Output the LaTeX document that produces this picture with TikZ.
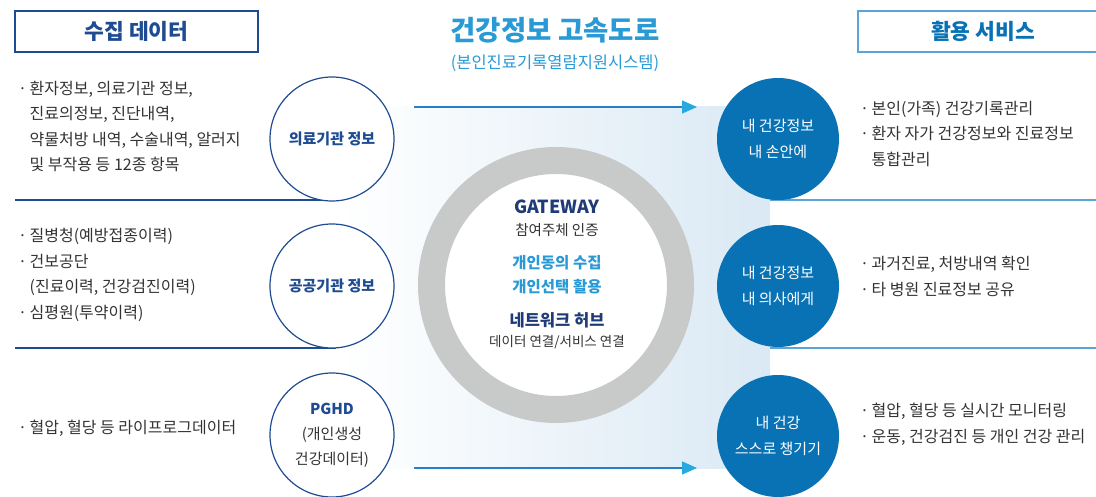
\documentclass[tikz,border=0pt]{standalone}
\usepackage{fontspec}
\setmainfont{Noto Sans CJK KR}
\usepackage{xcolor}
\usetikzlibrary{arrows.meta}
\usetikzlibrary{positioning}
\definecolor{navy}{RGB}{30,75,145}
\definecolor{titleblue}{RGB}{41,154,214}
\definecolor{hubnavy}{RGB}{32,60,120}
\definecolor{svcblue}{RGB}{8,114,180}
\definecolor{svcline}{RGB}{90,165,216}
\definecolor{bodygray}{RGB}{51,51,51}
\definecolor{ringgray}{RGB}{200,201,201}
\definecolor{bandblue}{RGB}{218,233,244}
\definecolor{arrowblue}{RGB}{36,128,200}
\definecolor{arrowtip}{RGB}{41,168,224}
\newcommand{\fsz}[1]{\fontsize{#1}{#1}\selectfont}
\newcommand{\bul}{·\hspace{2.5pt}}
\newcommand{\ind}{\hphantom{\bul}}

\begin{document}
\begin{tikzpicture}[x=1pt,y=-1pt,node distance=25.5pt]
  \tikzstyle{hdr}=[draw, line width=1.5pt, minimum width=243pt, minimum height=41pt, inner sep=0pt, font=\fsz{21.5}\bfseries]
  \tikzstyle{src}=[draw=navy, line width=1.2pt, circle, fill=white, minimum size=124pt, inner sep=0pt, align=center, text=navy, font=\fontsize{15}{25}\selectfont]
  \tikzstyle{svc}=[circle, fill=svcblue, minimum size=122pt, inner sep=0pt, align=center, text=white, font=\fontsize{15}{26}\selectfont]
  \tikzstyle{txt}=[anchor=west, align=left, inner sep=0pt, text=bodygray, font=\fontsize{16}{25.5}\selectfont]
  \tikzstyle{flow}=[-{Triangle[length=15pt,width=13pt,color=arrowtip,fill=arrowtip]}, line width=1.5pt, draw=arrowblue]
  \useasboundingbox (0,0) rectangle (1096,497);
  % band behind the hub
  \shade[left color=white, right color=bandblue] (340,107) rectangle (770,468);
  % row separators
  \foreach \y in {200,348} {
    \draw[navy, line width=1.2pt] (15,\y) -- (336,\y);
    \draw[svcline, line width=1.2pt] (770,\y) -- (1096,\y);
  }
  % headers
  \node[hdr, draw=navy, text=navy] (hdrL) at (136.5,31.5) {수집 데이터};
  \node[hdr, draw=svcline, text=svcblue, minimum width=250pt] (hdrR) at (983,31.5) {활용 서비스};
  \node[font=\fsz{27.5}\bfseries, text=titleblue] (title) at (555,30) {건강정보 고속도로};
  \node[font=\fsz{16.5}, text=titleblue, below of=title, node distance=33pt] (subtitle) {(본인진료기록열람지원시스템)};
  % flows
  \coordinate (in1) at (414,107);
  \coordinate (out1) at (697,107);
  \coordinate (in2) at (414,468);
  \coordinate (out2) at (697,468);
  \path (in1) edge[flow] (out1)
        (in2) edge[flow] (out2);
  % hub
  \node[circle, draw=ringgray, line width=27pt, fill=white, minimum size=249pt, inner sep=0pt] (hub) at (556,285) {};
  \node[font=\fsz{18}\bfseries, text=hubnavy] (gw) at (557,207) {GATEWAY};
  \node[font=\fsz{14.5}, text=bodygray, below of=gw, node distance=23pt] (gwsub) {참여주체 인증};
  \node[font=\fsz{15.5}\bfseries, text=titleblue, below of=gwsub, node distance=33pt] (con1) {개인동의 수집};
  \node[font=\fsz{15.5}\bfseries, text=titleblue, below of=con1, node distance=24pt] (con2) {개인선택 활용};
  \node[font=\fsz{16.5}\bfseries, text=hubnavy, below of=con2, node distance=33pt] (net) {네트워크 허브};
  \node[font=\fsz{13.5}, text=bodygray, below of=net, node distance=22pt] (netsub) {데이터 연결/서비스 연결};
  % sources
  \node[src] (med) at (332,139) {\bfseries 의료기관 정보};
  \node[src] (pub) at (332,286) {\bfseries 공공기관 정보};
  \node[src] (pghd) at (332,435) {{\bfseries PGHD}\\{\color{bodygray}(개인생성}\\{\color{bodygray}건강데이터)}};
  \node[txt] (medtxt) at (18,126.5) {\bul 환자정보, 의료기관 정보,\\\ind 진료의정보, 진단내역,\\\ind 약물처방 내역, 수술내역, 알러지\\\ind 및 부작용 등 12종 항목};
  \node[txt] (pubtxt) at (18,275) {\bul 질병청(예방접종이력)\\\bul 건보공단\\\ind (진료이력, 건강검진이력)\\\bul 심평원(투약이력)};
  \node[txt] (pghdtxt) at (18,428) {\bul 혈압, 혈당 등 라이프로그데이터};
  % services
  \node[svc] (hand) at (778,139) {내 건강정보\\내 손안에};
  \node[svc] (doc) at (778,286) {내 건강정보\\내 의사에게};
  \node[svc] (self) at (778,436) {내 건강\\스스로 챙기기};
  \node[txt] (handtxt) at (860,134) {\bul 본인(가족) 건강기록관리\\\bul 환자 자가 건강정보와 진료정보\\\ind 통합관리};
  \node[txt] (doctxt) at (860,276.5) {\bul 과거진료, 처방내역 확인\\\bul 타 병원 진료정보 공유};
  \node[txt] (selftxt) at (860,424.5) {\bul 혈압, 혈당 등 실시간 모니터링\\\bul 운동, 건강검진 등 개인 건강 관리};
\end{tikzpicture}
\end{document}
